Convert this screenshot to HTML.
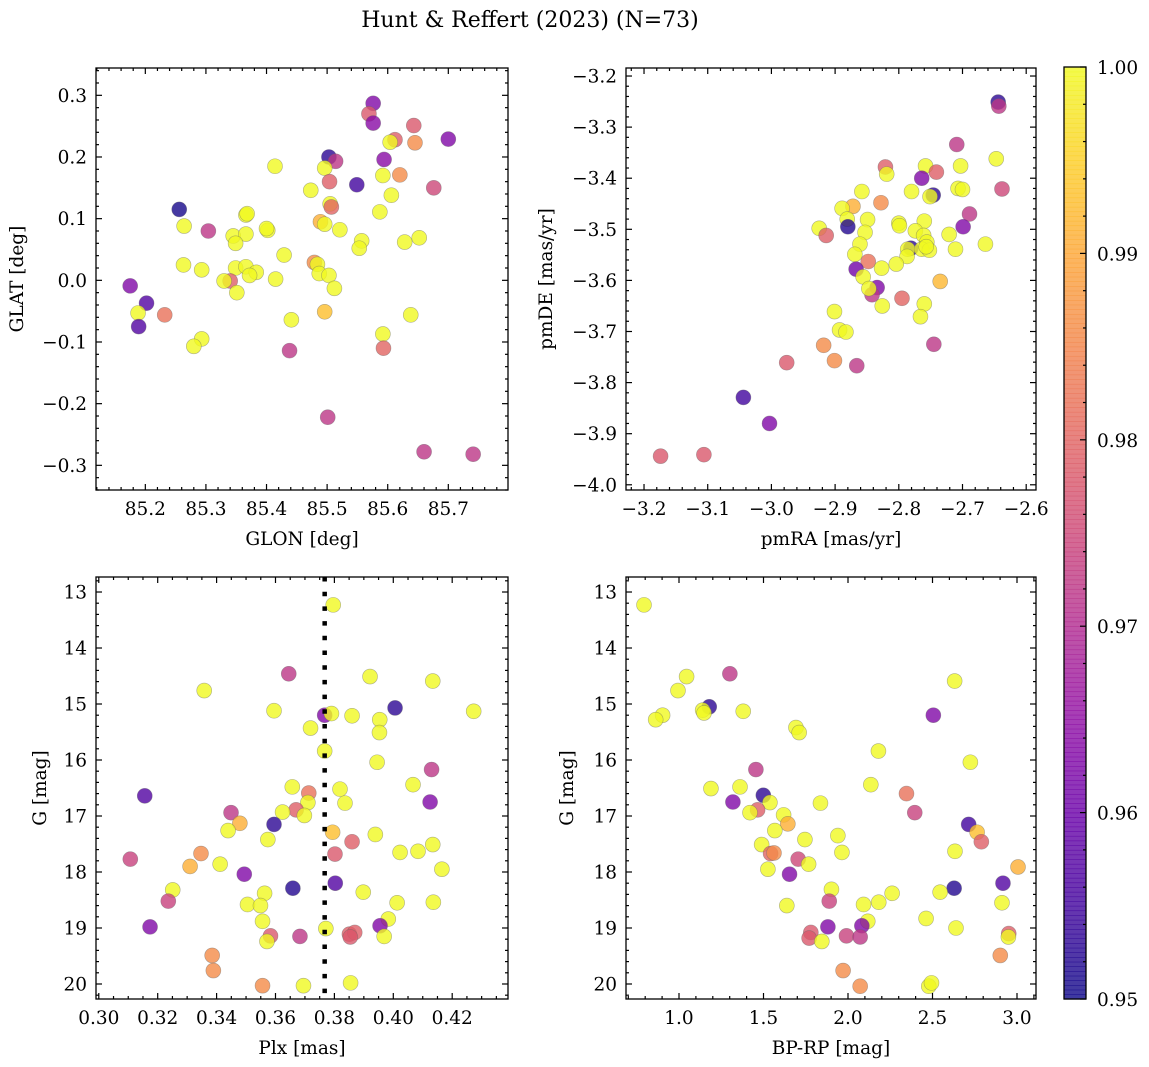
<!DOCTYPE html>
<html><head><meta charset="utf-8">
<style>
html,body{margin:0;padding:0;background:#fff;}
svg{display:block;font-family:"DejaVu Serif","Liberation Serif",serif;}
</style></head>
<body>
<svg id="fig" width="1149" height="1067" viewBox="0 0 1149 1067" xmlns="http://www.w3.org/2000/svg">
<text x="530" y="27" text-anchor="middle" font-size="22">Hunt &amp; Reffert (2023) (N=73)</text>
</svg>
<script>
// ---- Panel 1: GLON vs GLAT ----
const p1x=[85.576,85.569,85.576,85.643,85.700,85.612,85.604,85.645,85.503,85.514,85.594,85.414,85.496,85.592,85.620,85.504,85.549,85.676,85.473,85.606,85.505,85.507,85.256,85.587,85.366,85.264,85.304,85.489,85.496,85.402,85.521,85.345,85.366,85.349,85.557,85.553,85.628,85.652,85.429,85.263,85.293,85.349,85.366,85.383,85.372,85.479,85.484,85.487,85.503,85.415,85.340,85.330,85.512,85.351,85.175,85.202,85.188,85.232,85.189,85.496,85.638,85.441,85.293,85.280,85.592,85.593,85.438,85.501,85.660,85.741,85.368,85.400];
const p1y=[0.287,0.270,0.255,0.251,0.229,0.228,0.224,0.223,0.200,0.193,0.196,0.185,0.182,0.170,0.171,0.160,0.155,0.150,0.146,0.138,0.124,0.119,0.115,0.111,0.106,0.088,0.080,0.095,0.091,0.081,0.082,0.072,0.075,0.060,0.064,0.052,0.062,0.069,0.041,0.025,0.017,0.020,0.022,0.013,0.008,0.029,0.026,0.011,0.008,0.002,-0.001,-0.001,-0.013,-0.020,-0.009,-0.037,-0.053,-0.056,-0.075,-0.051,-0.056,-0.064,-0.095,-0.107,-0.087,-0.110,-0.114,-0.222,-0.278,-0.282,0.108,0.084];
const p1c=[0.963,0.978,0.964,0.978,0.963,0.979,1,0.986,0.953,0.972,0.964,1,1,1,0.986,0.979,0.955,0.975,1,1,1,0.98,0.951,1,1,1,0.972,0.991,1,1,1,1,1,1,1,1,1,1,1,1,1,1,1,1,1,0.986,1,1,1,1,0.979,1,1,1,0.963,0.957,1,0.982,0.957,0.993,1,1,1,1,1,0.98,0.972,0.972,0.972,0.972,1,1];
const p1xt=[85.2,85.3,85.4,85.5,85.6,85.7];
const p1xl=["85.2","85.3","85.4","85.5","85.6","85.7"];
const p1yt=[-0.3,-0.2,-0.1,0,0.1,0.2,0.3];
const p1yl=["\u22120.3","\u22120.2","\u22120.1","0.0","0.1","0.2","0.3"];
// ---- Panel 2: pmRA vs pmDE ----
const p2x=[-2.644,-2.643,-2.709,-2.647,-2.821,-2.819,-2.758,-2.741,-2.764,-2.703,-2.780,-2.707,-2.700,-2.638,-2.746,-2.751,-2.858,-2.828,-2.872,-2.889,-2.881,-2.880,-2.925,-2.914,-2.849,-2.853,-2.861,-2.869,-2.800,-2.799,-2.760,-2.774,-2.689,-2.699,-2.721,-2.711,-2.664,-2.781,-2.786,-2.761,-2.756,-2.764,-2.752,-2.757,-2.787,-2.848,-2.827,-2.804,-2.867,-2.856,-2.834,-2.842,-2.847,-2.735,-2.795,-2.826,-2.760,-2.766,-2.901,-2.893,-2.883,-2.745,-2.918,-2.901,-2.976,-2.866,-3.044,-3.003,-3.106,-3.174];
const p2y=[-3.251,-3.259,-3.334,-3.362,-3.378,-3.392,-3.376,-3.388,-3.400,-3.376,-3.426,-3.420,-3.422,-3.421,-3.433,-3.436,-3.426,-3.448,-3.455,-3.459,-3.480,-3.495,-3.498,-3.512,-3.481,-3.506,-3.529,-3.549,-3.488,-3.493,-3.484,-3.503,-3.470,-3.495,-3.510,-3.539,-3.529,-3.537,-3.539,-3.512,-3.525,-3.539,-3.541,-3.534,-3.553,-3.563,-3.576,-3.568,-3.578,-3.593,-3.614,-3.628,-3.616,-3.602,-3.635,-3.650,-3.646,-3.671,-3.661,-3.697,-3.701,-3.725,-3.727,-3.757,-3.761,-3.767,-3.829,-3.880,-3.941,-3.944];
const p2c=[0.953,0.972,0.972,1,0.979,1,1,0.979,0.963,1,1,1,1,0.975,0.953,1,1,0.986,0.991,1,1,0.952,1,0.979,1,1,1,1,1,1,1,1,0.972,0.963,1,1,1,0.953,1,1,1,1,1,1,1,0.982,1,1,0.961,1,0.963,0.972,1,0.992,0.98,1,1,1,1,1,1,0.972,0.986,0.986,0.978,0.972,0.955,0.963,0.978,0.978];
const p2xt=[-3.2,-3.1,-3.0,-2.9,-2.8,-2.7,-2.6];
const p2xl=["\u22123.2","\u22123.1","\u22123.0","\u22122.9","\u22122.8","\u22122.7","\u22122.6"];
const p2yt=[-4.0,-3.9,-3.8,-3.7,-3.6,-3.5,-3.4,-3.3,-3.2];
const p2yl=["\u22124.0","\u22123.9","\u22123.8","\u22123.7","\u22123.6","\u22123.5","\u22123.4","\u22123.3","\u22123.2"];
// ---- Panel 3: Plx vs G ----
const p3x=[0.3796,0.3645,0.3921,0.4134,0.3358,0.4006,0.4273,0.3595,0.3767,0.3790,0.3860,0.3954,0.3953,0.3719,0.3767,0.3945,0.4130,0.4067,0.3657,0.3713,0.3156,0.3710,0.3819,0.3836,0.4125,0.3670,0.3698,0.3624,0.3449,0.3479,0.3439,0.3595,0.3574,0.3794,0.3939,0.3860,0.3802,0.4134,0.4084,0.4023,0.3347,0.3107,0.3310,0.3412,0.4165,0.3494,0.3803,0.3659,0.3251,0.3898,0.3236,0.4013,0.4136,0.3563,0.3505,0.3549,0.3556,0.3983,0.3955,0.3174,0.3771,0.3583,0.3571,0.3683,0.3851,0.3869,0.3854,0.3969,0.3385,0.3389,0.3556,0.3695,0.3855];
const p3y=[13.23,14.46,14.51,14.59,14.76,15.07,15.13,15.12,15.20,15.17,15.21,15.28,15.51,15.43,15.84,16.04,16.17,16.44,16.48,16.59,16.64,16.76,16.52,16.77,16.75,16.89,16.99,16.93,16.94,17.13,17.26,17.15,17.42,17.29,17.33,17.46,17.68,17.51,17.63,17.65,17.67,17.77,17.90,17.86,17.95,18.04,18.20,18.29,18.32,18.36,18.52,18.55,18.54,18.38,18.58,18.60,18.88,18.84,18.96,18.98,19.01,19.14,19.24,19.15,19.11,19.08,19.16,19.15,19.49,19.76,20.03,20.03,19.98];
const p3c=[1,0.972,1,1,1,0.953,1,1,0.963,1,1,1,1,1,1,1,0.972,1,1,0.982,0.957,1,1,1,0.963,0.979,1,1,0.972,0.991,1,0.953,1,0.993,1,0.979,0.978,1,1,1,0.986,0.974,0.991,1,1,0.963,0.957,0.952,1,1,0.974,1,1,1,1,1,1,1,0.963,0.963,1,0.978,1,0.972,0.979,0.979,0.978,1,0.986,0.986,0.986,1,1];
const p3xt=[0.30,0.32,0.34,0.36,0.38,0.40,0.42];
const p3xl=["0.30","0.32","0.34","0.36","0.38","0.40","0.42"];
const p3yt=[13,14,15,16,17,18,19,20];
const p3yl=["13","14","15","16","17","18","19","20"];
const p3line=[0.3767];
// ---- Panel 4: BP-RP vs G ----
const p4x=[0.793,1.301,1.045,2.631,0.994,1.179,1.140,1.148,1.380,0.903,0.862,2.505,1.692,1.711,2.180,2.724,1.455,2.135,1.189,1.361,2.346,1.837,1.499,1.538,1.319,2.395,1.465,1.420,1.619,1.644,1.567,2.714,2.764,2.789,1.940,1.745,1.489,1.542,1.562,2.633,1.964,1.705,1.767,1.526,3.006,1.654,2.628,2.917,1.902,2.545,2.261,1.889,2.911,2.182,2.092,1.638,2.462,2.117,2.082,1.881,2.639,2.951,2.949,1.780,1.770,1.991,2.072,1.845,2.901,1.971,2.072,2.478,2.494];
const p4y=[13.23,14.46,14.51,14.59,14.76,15.05,15.11,15.16,15.13,15.20,15.28,15.20,15.42,15.51,15.84,16.04,16.17,16.44,16.51,16.48,16.60,16.77,16.63,16.76,16.75,16.94,16.89,16.94,16.98,17.14,17.26,17.15,17.29,17.46,17.35,17.42,17.51,17.67,17.66,17.63,17.65,17.77,17.86,17.95,17.91,18.04,18.29,18.20,18.31,18.36,18.38,18.52,18.55,18.54,18.58,18.60,18.83,18.88,18.96,18.98,19.00,19.10,19.16,19.08,19.18,19.14,19.16,19.24,19.49,19.76,20.04,20.04,19.98];
const p4c=[1,0.972,1,1,1,0.953,1,1,1,1,1,0.963,1,1,1,1,0.972,1,1,1,0.982,1,0.953,1,0.963,0.974,0.979,1,1,0.991,1,0.955,0.993,0.979,1,1,1,0.98,0.986,1,1,0.975,1,1,0.991,0.963,0.952,0.957,1,1,1,0.974,1,1,1,1,1,1,0.963,0.963,1,0.979,1,0.978,0.978,0.974,0.972,1,0.986,0.986,0.986,1,1];
const p4xt=[1.0,1.5,2.0,2.5,3.0];
const p4xl=["1.0","1.5","2.0","2.5","3.0"];
const p4yt=[13,14,15,16,17,18,19,20];
const p4yl=["13","14","15","16","17","18","19","20"];
// ---- Colorbar ----
const cbTicks=[0.95,0.96,0.97,0.98,0.99,1.00];
const cbLabels=["0.95","0.96","0.97","0.98","0.99","1.00"];
const cbMin=0.95, cbMax=1.00;

const FS=18.5;
const NS="http://www.w3.org/2000/svg";
const svg=document.getElementById('fig');
function mk(tag,attrs,parent){const e=document.createElementNS(NS,tag);for(const k in attrs)e.setAttribute(k,attrs[k]);(parent||svg).appendChild(e);return e;}
const stops=[[13,8,135],[65,4,157],[106,0,168],[143,13,164],[177,42,144],[204,71,120],[225,100,98],[242,132,75],[252,166,54],[252,206,37],[240,249,33]];
function plasma(t){t=Math.max(0,Math.min(1,t));const f=t*10;const i=Math.min(9,Math.floor(f));const r=f-i;const a=stops[i],b=stops[i+1];
  return 'rgb('+[0,1,2].map(k=>Math.round(a[k]+(b[k]-a[k])*r)).join(',')+')';}
function cval(p){return plasma((p-cbMin)/(cbMax-cbMin));}

function drawPanel(o){
  const g=mk('g',{});
  
  
  const sx=v=>o.x0+(v-o.xmin)/(o.xmax-o.xmin)*o.w;
  const sy=v=>o.inv? o.y0+(v-o.ymin)/(o.ymax-o.ymin)*o.h : o.y0+o.h-(v-o.ymin)/(o.ymax-o.ymin)*o.h;
  const pg=mk('g',{},g);
  
  
  for(let i=0;i<o.xs.length;i++){
    const c=mk('circle',{cx:sx(o.xs[i]),cy:sy(o.ys[i]),r:7.5,fill:cval(o.cs[i]),'fill-opacity':0.8,stroke:'#666','stroke-opacity':0.5,'stroke-width':0.6},pg);
    
    
  }
  if(o.vline){for(const v of o.vline){
    const l=mk('line',{x1:sx(v),x2:sx(v),y1:o.y0,y2:o.y0+o.h,stroke:'#000','stroke-width':4.5,'stroke-dasharray':'4.5 10.2'},g);
    
    
  }}
  const fr=mk('rect',{x:o.x0,y:o.y0,width:o.w,height:o.h,fill:'none',stroke:'#000','stroke-width':1.3},g);
  
  
  const tk=mk('g',{stroke:'#000','stroke-width':1.2},g);
  
  
  const xs=o.xt, ys=o.yt;
  const xstep=xs[1]-xs[0], ystep=ys[1]-ys[0];
  for(let k=Math.ceil((o.xmin-xstep)/ (xstep/o.xdiv)); ;k++){
    const v=k*xstep/o.xdiv; if(v>o.xmax) break; if(v<o.xmin) continue;
    const major=Math.abs(Math.round(v/xstep)*xstep-v)<xstep*1e-3; const L=major?6:3; const x=sx(v);
    mk('line',{x1:x,x2:x,y1:o.y0+o.h,y2:o.y0+o.h-L},tk); mk('line',{x1:x,x2:x,y1:o.y0,y2:o.y0+L},tk);
  }
  const ylo=Math.min(o.ymin,o.ymax), yhi=Math.max(o.ymin,o.ymax);
  for(let k=Math.ceil((ylo-ystep)/(ystep/o.ydiv)); ;k++){
    const v=k*ystep/o.ydiv; if(v>yhi) break; if(v<ylo) continue;
    const major=Math.abs(Math.round(v/ystep)*ystep-v)<ystep*1e-3; const L=major?6:3; const y=sy(v);
    mk('line',{y1:y,y2:y,x1:o.x0,x2:o.x0+L},tk); mk('line',{y1:y,y2:y,x1:o.x0+o.w,x2:o.x0+o.w-L},tk);
  }
  xs.forEach((v,i)=>{const t=mk('text',{x:sx(v),y:o.y0+o.h+25,'text-anchor':'middle','font-size':FS},g);t.textContent=o.xl[i];
    
    });
  ys.forEach((v,i)=>{const t=mk('text',{x:o.x0-9,y:sy(v)+6.5,'text-anchor':'end','font-size':FS},g);t.textContent=o.yl[i];
    
    });
  const xt=mk('text',{x:o.x0+o.w/2,y:o.y0+o.h+55,'text-anchor':'middle','font-size':FS},g);xt.textContent=o.xlabel;
  
  
  const yc=o.y0+o.h/2;
  const yt=mk('text',{x:o.ylx,y:yc,'text-anchor':'middle','font-size':FS,transform:'rotate(-90 '+o.ylx+' '+yc+')'},g);yt.textContent=o.ylabel;
  
  
}

drawPanel({name:'panel-glon-glat',x0:96,y0:68,w:412,h:422,xmin:85.1186,xmax:85.7985,ymin:-0.3400,ymax:0.3443,xs:p1x,ys:p1y,cs:p1c,xt:p1xt,xl:p1xl,yt:p1yt,yl:p1yl,xdiv:5,ydiv:5,xlabel:'GLON [deg]',ylabel:'GLAT [deg]',ylx:23});
drawPanel({name:'panel-pmra-pmde',x0:626,y0:68,w:410,h:422,xmin:-3.2283,xmax:-2.5846,ymin:-4.0102,ymax:-3.1843,xs:p2x,ys:p2y,cs:p2c,xt:p2xt,xl:p2xl,yt:p2yt,yl:p2yl,xdiv:5,ydiv:5,xlabel:'pmRA [mas/yr]',ylabel:'pmDE [mas/yr]',ylx:552});
drawPanel({name:'panel-plx-g',x0:96,y0:577,w:412,h:422,xmin:0.29905,xmax:0.43895,ymin:12.732,ymax:20.268,inv:true,xs:p3x,ys:p3y,cs:p3c,xt:p3xt,xl:p3xl,yt:p3yt,yl:p3yl,xdiv:4,ydiv:5,xlabel:'Plx [mas]',ylabel:'G [mag]',ylx:46,vline:p3line});
drawPanel({name:'panel-bprp-g',x0:626,y0:577,w:410,h:422,xmin:0.6864,xmax:3.1124,ymin:12.732,ymax:20.268,inv:true,xs:p4x,ys:p4y,cs:p4c,xt:p4xt,xl:p4xl,yt:p4yt,yl:p4yl,xdiv:5,ydiv:5,xlabel:'BP-RP [mag]',ylabel:'G [mag]',ylx:573});

(function(){
  const x0=1064,w=22,y0=67,y1=999;
  const g=mk('g',{});
  
  
  const sy=v=>y1-(v-cbMin)/(cbMax-cbMin)*(y1-y0);
  const n=200;
  for(let i=0;i<n;i++){const ya=y1-(i+1)*(y1-y0)/n;mk('rect',{x:x0,y:ya,width:w,height:(y1-y0)/n+0.6,fill:plasma((i+0.5)/n),'fill-opacity':0.8},g);}
  const fr=mk('rect',{x:x0,y:y0,width:w,height:y1-y0,fill:'none',stroke:'#000','stroke-width':1.3},g);
  
  
  const step=cbTicks[1]-cbTicks[0];
  for(let k=0;;k++){const v=cbMin+k*step/5;if(v>cbMax+1e-9)break;const major=k%5===0;const y=sy(v);
    mk('line',{x1:x0+w,x2:x0+w-(major?6:3),y1:y,y2:y,stroke:'#000','stroke-width':1.2},g);}
  cbTicks.forEach((v,i)=>{const t=mk('text',{x:x0+w+11,y:sy(v)+7,'font-size':FS},g);t.textContent=cbLabels[i];
    
    });
})();
</script>
</body></html>
